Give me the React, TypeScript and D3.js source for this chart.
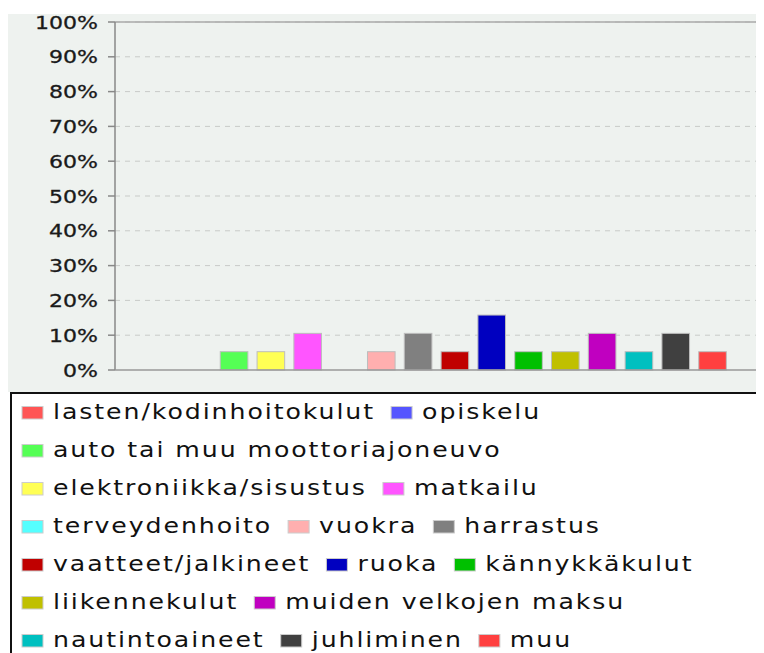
import React, { useMemo } from "react";
import { scaleBand, scaleLinear } from "d3";

const CATEGORIES = [
  "lasten/kodinhoitokulut",
  "opiskelu",
  "auto tai muu moottoriajoneuvo",
  "elektroniikka/sisustus",
  "matkailu",
  "terveydenhoito",
  "vuokra",
  "harrastus",
  "vaatteet/jalkineet",
  "ruoka",
  "kännykkäkulut",
  "liikennekulut",
  "muiden velkojen maksu",
  "nautintoaineet",
  "juhliminen",
  "muu",
];
const VALUES = [0, 0, 5.26, 5.26, 10.53, 0, 5.26, 10.53, 5.26, 15.79, 5.26, 5.26, 10.53, 5.26, 10.53, 5.26];
const COLORS = [
  "#ff5555", "#5555ff", "#55ff55", "#ffff55", "#ff55ff", "#55ffff", "#ffafaf", "#808080",
  "#c00000", "#0000c0", "#00c000", "#c0c000", "#c000c0", "#00c0c0", "#404040", "#ff4040",
];
const Y_TICKS = [0, 10, 20, 30, 40, 50, 60, 70, 80, 90, 100];

const W = 756;
const H = 645;
const PLOT = { left: 107, right: 750, top: 14, bottom: 362 };
const BG = "#eef2ef";
const FONT = "DejaVu Sans";
const STRETCH = 1.26;
const LEG_SIZE = 21;
const LEG_SPACING = 1.6;
const LEG_SX = 1.2;

const measure = (txt: string, size: number) => {
  const ctx = document.createElement("canvas").getContext("2d");
  ctx.font = `${size}px "${FONT}"`;
  return ctx.measureText(txt).width;
};

export default function App() {
  const x = scaleBand<string>()
    .domain(CATEGORIES)
    .range([PLOT.left, PLOT.right])
    .paddingInner(0.25)
    .paddingOuter(0.86);
  const y = scaleLinear().domain([0, 100]).range([PLOT.bottom, PLOT.top]);

  // simple flow layout for the legend, like the original
  const legend = useMemo(() => {
    const items = [];
    let cx = 14;
    let row = 0;
    CATEGORIES.forEach((c, i) => {
      const tw = (measure(c, LEG_SIZE) + LEG_SPACING * c.length) * LEG_SX;
      const full = 31 + tw;
      if (cx + full > W - 10 && cx > 14) {
        row += 1;
        cx = 14;
      }
      items.push({ name: c, color: COLORS[i], x: cx, row });
      cx += full + 16;
    });
    return items;
  }, []);

  return (
    <svg width={W} height={H} style={{ display: "block" }}>
      <rect x={0} y={6} width={W} height={378} fill={BG} />

      {Y_TICKS.slice(1).map((t) => (
        <line key={t} x1={PLOT.left} x2={PLOT.right} y1={y(t)} y2={y(t)}
          stroke="#c8cbc8" strokeDasharray="5,5" />
      ))}
      <line x1={PLOT.left} x2={PLOT.right} y1={PLOT.top} y2={PLOT.top} stroke="#aaa" strokeWidth={1.5} />
      <line x1={PLOT.right} x2={PLOT.right} y1={PLOT.top} y2={PLOT.bottom} stroke="#aaa" strokeWidth={1.5} />

      {CATEGORIES.map((c, i) =>
        VALUES[i] > 0 ? (
          <rect key={c} x={x(c)} y={y(VALUES[i])} width={x.bandwidth()}
            height={y(0) - y(VALUES[i])} fill={COLORS[i]} stroke="#bdbdbd" strokeWidth={1} />
        ) : null
      )}

      <line x1={PLOT.left} x2={PLOT.left} y1={PLOT.top} y2={PLOT.bottom} stroke="#888" strokeWidth={1.5} />
      <line x1={PLOT.left} x2={PLOT.right} y1={PLOT.bottom} y2={PLOT.bottom} stroke="#999" strokeWidth={1.5} />
      {Y_TICKS.map((t) => (
        <g key={t}>
          <line x1={PLOT.left - 7} x2={PLOT.left} y1={y(t)} y2={y(t)} stroke="#888" strokeWidth={1.5} />
          <text transform={`translate(90,${y(t) + 6.5}) scale(${STRETCH},1)`} textAnchor="end"
            fontFamily={FONT} fontSize={17.5} fill="#1a1a1a" stroke="#1a1a1a" strokeWidth={0.3}>
            {`${t}%`}
          </text>
        </g>
      ))}

      <rect x={3} y={385} width={W + 10} height={H} fill="#fff" stroke="#111" strokeWidth={2} />
      {legend.map((d) => {
        const base = 411 + d.row * 38;
        return (
          <g key={d.name}>
            <rect x={d.x} y={base - 12.5} width={21} height={12.5} fill={d.color} stroke="#ccc" strokeWidth={1} />
            <text transform={`translate(${d.x + 31},${base}) scale(${LEG_SX},1)`}
              fontFamily={FONT} fontSize={LEG_SIZE} letterSpacing={LEG_SPACING} fill="#111">
              {d.name}
            </text>
          </g>
        );
      })}
    </svg>
  );
}
